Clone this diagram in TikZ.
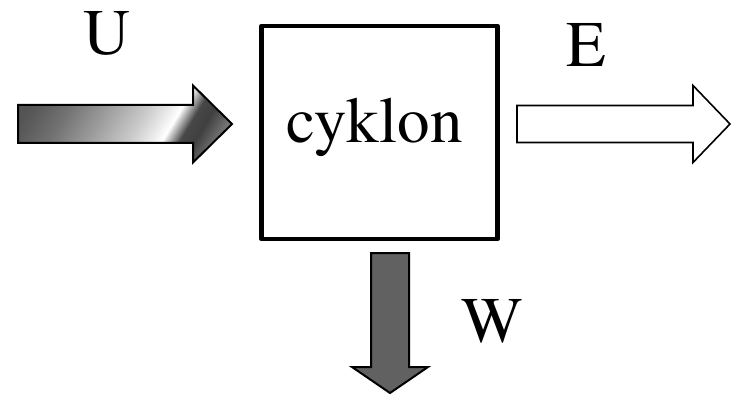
\documentclass[tikz,border=0pt]{standalone}
\usepackage[T1]{fontenc}
\usepackage{mathptmx}
\pgfdeclarehorizontalshading{metal}{100bp}{color(0bp)=(black!65); color(25bp)=(black!65); color(35.83bp)=(black!67); color(37.5bp)=(black!64); color(41.67bp)=(black!55); color(47.22bp)=(black!38); color(52.78bp)=(black!20); color(55.56bp)=(black!8); color(57.22bp)=(white); color(58.06bp)=(black!25); color(59.72bp)=(black!72); color(61.81bp)=(black!75); color(65.56bp)=(black!50); color(75bp)=(black!45); color(100bp)=(black!45)}
\begin{document}
\begin{tikzpicture}[x=1pt,y=1pt,
  lbl/.style={font=\fontsize{65}{78}\selectfont, anchor=base, inner sep=0pt},
  arrowline/.style={draw=black, line width=2pt, line join=miter}]
\useasboundingbox[fill=white] (0,-280) rectangle (736,124);
% block
\node[draw, line width=4.5pt, line join=round, minimum width=236pt, minimum height=213pt, inner sep=0pt] (box) at (379.5,-8.5) {};
\node[lbl] (name) at (374.5,-19) {cyklon};
% input arrow U (metallic)
\begin{scope}
  \clip (18,19) -- (193,19) -- (193,38.5) -- (232,0) -- (193,-38.5) -- (193,-19) -- (18,-19) -- cycle;
  \begin{scope}[transform canvas={xslant=0.6}]
    \shade[shading=metal] (-60,-45) rectangle (300,45);
  \end{scope}
\end{scope}
\draw[arrowline] (18,19) -- (193,19) -- (193,38.5) -- (232,0) -- (193,-38.5) -- (193,-19) -- (18,-19) -- cycle;
% output arrow E
\draw[arrowline, line width=1.6pt, fill=white] (517,18.5) -- (693,18.5) -- (693,38.5) -- (730,0) -- (693,-38.5) -- (693,-18.5) -- (517,-18.5) -- cycle;
% output arrow W
\draw[arrowline, fill=black!62] (371,-129) -- (409,-129) -- (409,-243) -- (428,-243) -- (390,-269) -- (352,-243) -- (371,-243) -- cycle;
% labels
\node[lbl] (u) at (107,69) {U};
\node[lbl] (e) at (586,57) {E};
\node[lbl] (w) at (492,-218) {W};
\end{tikzpicture}
\end{document}
